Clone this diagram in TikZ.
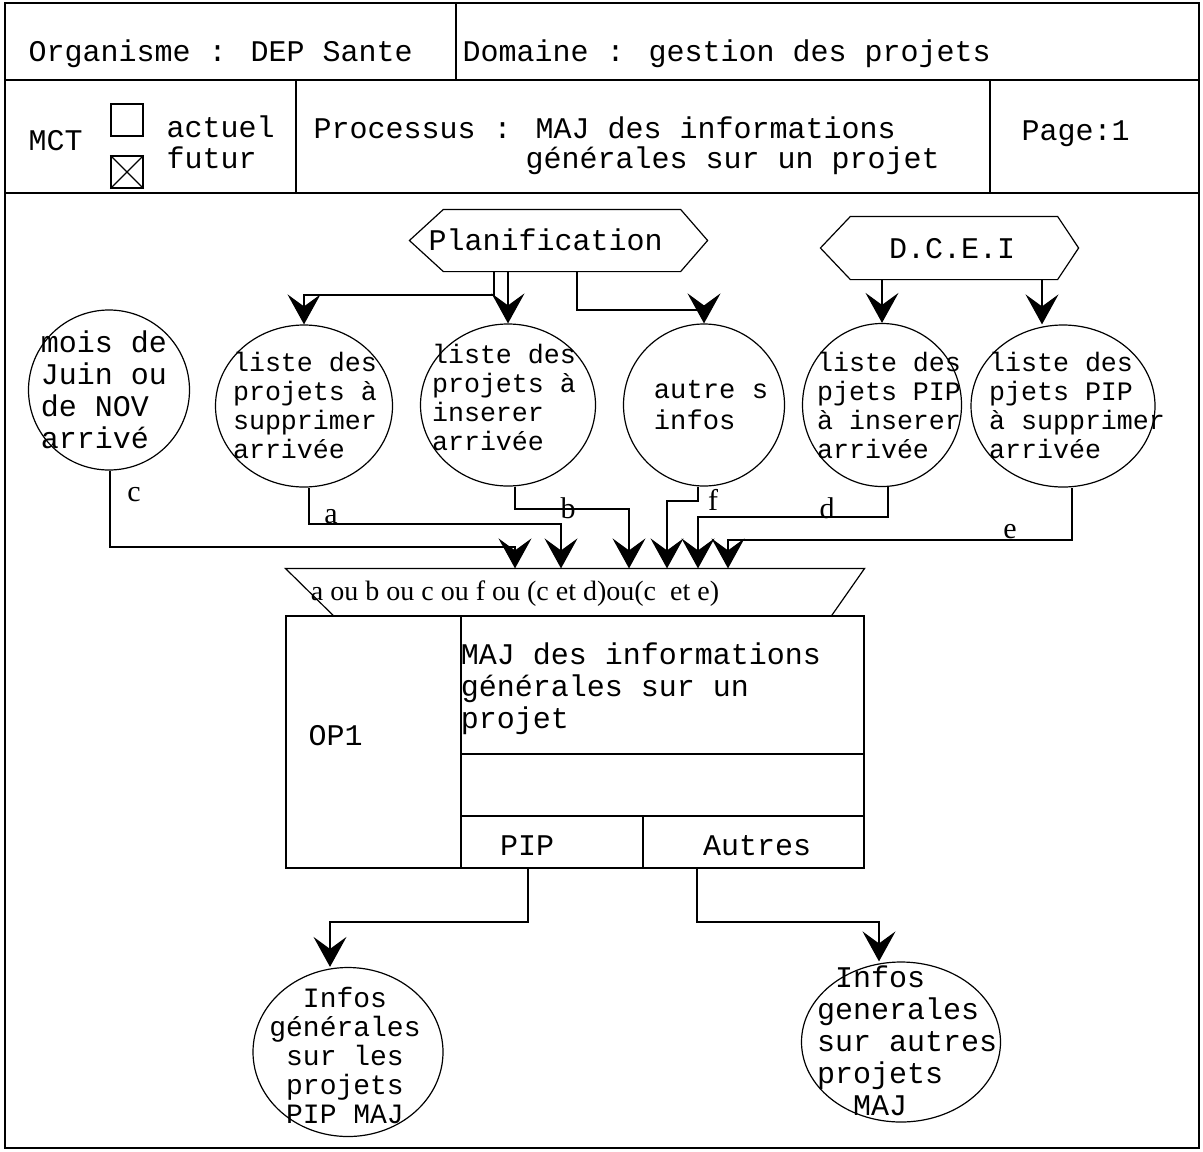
\documentclass[tikz,border=0pt]{standalone}
\usepackage{fontspec}
\setmainfont{Liberation Mono}
\newfontfamily\serifc{Liberation Serif}
\usetikzlibrary{arrows.meta,shapes.geometric}
\begin{document}
\begin{tikzpicture}[x=0.5pt,y=-0.5pt, line width=0.6pt,
  every node/.style={inner sep=0pt},
  arr/.style={-{Stealth[length=15pt,width=16.5pt,inset=6pt]}},
  circ/.style={draw, ellipse, inner sep=0pt},
  txt/.style={font=\fontsize{15}{16}\selectfont},
  ctxt/.style={align=left, font=\fontsize{13.33}{14.5}\selectfont},
  lbl/.style={font=\serifc\fontsize{15}{16}\selectfont},
  cbox/.style={draw, minimum size=16pt},
]
\fill[white] (0,0) rectangle (1203,1151);
\useasboundingbox (0,0) rectangle (1203,1151);

% frame and header table
\draw (5,3) rectangle (1199,1148);
\draw (5,80) -- (1199,80);
\draw (5,193) -- (1199,193);
\draw (456,3) -- (456,80);
\draw (296,80) -- (296,193);
\draw (990,80) -- (990,193);

\node[txt, anchor=base west] (org) at (28,61) {Organisme : DEP Sante};
\node[txt, anchor=base west] (dom) at (462,61) {Domaine : gestion des projets};
\node[txt, anchor=base west] (mct) at (28,150) {MCT};
\node[cbox] (cb1) at (127,120) {};
\node[cbox] (cb2) at (127,172) {};
\draw (cb2.north west) -- (cb2.south east) (cb2.north east) -- (cb2.south west);
\node[txt, anchor=base west] (act) at (166,137) {actuel};
\node[txt, anchor=base west] (fut) at (166,168) {futur};
\node[txt, anchor=base west] (proc) at (313,138) {Processus : MAJ des informations};
\node[txt, anchor=base west] (proc2) at (525,168) {générales sur un projet};
\node[txt, anchor=base west] (page) at (1021,140) {Page:1};

% external actors
\node[minimum width=118pt, minimum height=30.5pt] (plan) at (562,240.5) {};
\draw (plan.north west) -- (plan.north east) -- ([xshift=13.5pt]plan.east) -- (plan.south east) -- (plan.south west) -- ([xshift=-17pt]plan.west) -- cycle;
\node[txt, anchor=base west] (plant) at (428,250) {Planification};

\node[minimum width=103pt, minimum height=31pt] (dcei) at (954,248) {};
\draw (dcei.north west) -- (dcei.north east) -- ([xshift=10.5pt]dcei.east) -- (dcei.south east) -- (dcei.south west) -- ([xshift=-15pt]dcei.west) -- cycle;
\node[txt, anchor=base] (dceit) at (952,258) {D.C.E.I};

% events
\node[circ, minimum width=80.5pt, minimum height=80pt] (c1) at (109,390) {};
\node[txt, align=left] (c1t) at (104,390) {mois de\\Juin ou\\de NOV\\arrivé};
\node[circ, minimum width=88.5pt, minimum height=81pt] (c2) at (304,406) {};
\node[ctxt] (c2t) at (305,405) {liste des\\projets à\\supprimer\\arrivée};
\node[circ, minimum width=87.5pt, minimum height=81pt] (c3) at (508,405) {};
\node[ctxt] (c3t) at (504,397) {liste des\\projets à\\inserer\\arrivée};
\node[circ, minimum width=80.5pt, minimum height=81pt] (c4) at (704,405) {};
\node[align=left, font=\fontsize{13.6}{15.5}\selectfont] (c4t) at (711,405) {autre s\\infos};
\node[circ, minimum width=79.5pt, minimum height=81.5pt] (c5) at (882,405) {};
\node[ctxt] (c5t) at (889,405) {liste des\\pjets PIP\\à inserer\\arrivée};
\node[circ, minimum width=92pt, minimum height=81pt] (c6) at (1063,406) {};
\node[ctxt] (c6t) at (1077,405) {liste des\\pjets PIP\\à supprimer\\arrivée};

% arrows from actors
\draw[arr] (plan.south -| 494,0) -- (494,295) -| (c2.north);
\draw[arr] (plan.south -| c3.north) -- (c3.north);
\draw[arr] (plan.south -| 577,0) -- (577,310) -| (c4.north);
\draw[arr] (dcei.south -| c5.north) -- (c5.north);
\draw[arr] (dcei.south -| 1042,0) -- (c6.north -| 1042,0);

% synchronisation condition
\node[minimum width=289pt, minimum height=23pt] (cond) at (575,592) {};
\draw (cond.north west) -- (cond.north east) -- ([xshift=-16.5pt]cond.south east) -- ([xshift=24pt]cond.south west) -- cycle;
\node[anchor=base, font=\serifc\fontsize{14}{16}\selectfont] (condt) at (515,600) {a ou b ou c ou f ou (c et d)ou(c~~et e)};

% event to condition
\draw[arr] (c1.south -| 110,0) -- (110,547) -| (cond.north -| 515,0);
\draw[arr] (c2.south -| 309,0) -- (309,524) -| (cond.north -| 561,0);
\draw[arr] (c3.south -| 515,0) -- (515,509) -| (cond.north -| 629,0);
\draw[arr] (c4.south -| 698,0) -- (698,501) -| (cond.north -| 667,0);
\draw[arr] (c5.south -| 888,0) -- (888,517) -| (cond.north -| 698,0);
\draw[arr] (c6.south -| 1072,0) -- (1072,540) -| (cond.north -| 728,0);

\node[lbl] (lc) at (134,495) {c};
\node[lbl] (la) at (331,517) {a};
\node[lbl] (lb) at (568,508) {b};
\node[lbl] (lf) at (713,500) {f};
\node[lbl] (ld) at (827,508) {d};
\node[lbl] (le) at (1010,532) {e};

% operation
\node[draw, minimum width=289pt, minimum height=126pt] (op) at (575,742) {};
\draw (op.north -| 461,0) -- (461,860);
\draw (461,754) -- (op.east |- 0,754);
\node[draw, minimum width=91pt, minimum height=26pt] (pip) at (552,842) {};
\node[draw, minimum width=110.5pt, minimum height=26pt] (aut) at (753.5,842) {};
\node[txt, align=left] (opt) at (641,689) {MAJ des informations\\générales sur un\\projet};
\node[txt, anchor=base west] (op1) at (308,745) {OP1};
\node[txt, anchor=base] (pipt) at (527,855) {PIP};
\node[txt, anchor=base] (autt) at (757,855) {Autres};

% results
\node[circ, minimum width=95pt, minimum height=84.5pt] (o1) at (348,1052) {};
\node[align=center, font=\fontsize{14}{14.5}\selectfont] (o1t) at (345,1055) {Infos\\générales\\sur les\\projets\\PIP MAJ};
\node[circ, minimum width=99.5pt, minimum height=80pt] (o2) at (901,1042) {};
\node[txt, align=left] (o2t) at (907,1041) {~Infos\\generales\\sur autres\\projets\\~~MAJ};

\draw[arr] (pip.south -| 528,0) -- (528,922) -| (o1.north -| 330,0);
\draw[arr] (aut.south -| 697,0) -- (697,922) -| (o2.north -| 879,0);
\end{tikzpicture}
\end{document}
